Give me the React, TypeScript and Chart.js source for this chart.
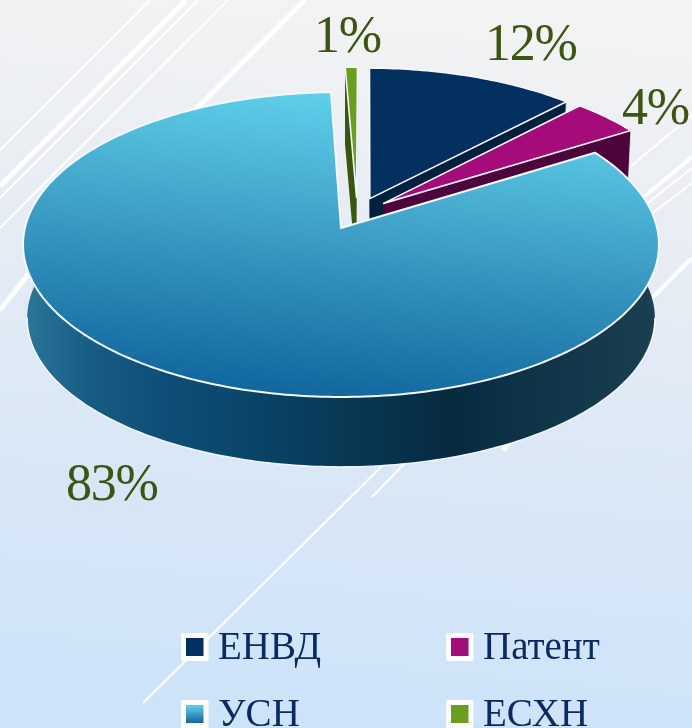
import React, { useEffect, useRef } from "react";
import { Chart, registerables } from "chart.js";

Chart.register(...registerables);

const categories = ["ЕНВД", "Патент", "УСН", "ЕСХН"];
const shares = [12, 4, 83.3, 0.7];

const topColors = ["#03305f", "#a50c7a", "#3f9fc8", "#6b9e1f"];
const wallColors = ["#02213f", "#4d053c", "#0a4266", "#3a5510"];
const paintOrder = [3, 0, 1, 2];
const usnIndex = 2;

const labelInk = "#3b5512";
const legendInk = "#0b2a63";
const labelSpots = [
  { x: 485, y: 60 },
  { x: 622, y: 124 },
  { x: 66, y: 500 },
  { x: 314, y: 52 },
];
const legendSpots = [
  { x: 181, y: 633 },
  { x: 446, y: 633 },
  { x: 181, y: 700 },
  { x: 446, y: 700 },
];

const bgLines: [number, number, number, number, number][] = [
  [150, 0, 0, 150, 2],
  [186, 0, 0, 186, 5],
  [198, 0, 0, 198, 2],
  [228, 0, 0, 228, 2],
  [305, 0, 190, 115, 5],
  [0, 310, 30, 272, 5],
  [692, 258, 650, 300, 4],
  [630, 167, 692, 115, 2],
  [640, 200, 692, 157, 4],
  [645, 205, 692, 168, 2],
  [650, 215, 692, 183, 2],
  [143, 703, 385, 463, 2],
  [372, 497, 405, 463, 2],
  [503, 450, 512, 440, 5],
];

// perspective plane: horizontal and vertical reach and y of origin for the top and bottom faces
const PERSP = 0.1082;
const CX = 341;
const TOP = { a: 316.1, b: 150.7, y0: 228 };
const BOTTOM = { a: 312, b: 147, y0: 302 };
const EXPLODE = 0.11;

type Face = { a: number; b: number; y0: number };

function project(u: number, v: number, f: Face) {
  const w = 1 - PERSP * v;
  return { x: CX + (f.a * u) / w, y: f.y0 + (f.b * v) / w };
}

function sliceGeom(start: number, end: number, usnMid: number) {
  const mid = (start + end) / 2;
  const ou = EXPLODE * (Math.cos(mid) - Math.cos(usnMid));
  const ov = EXPLODE * (Math.sin(mid) - Math.sin(usnMid));
  const pts: [number, number][] = [];
  const n = Math.max(2, Math.ceil(((end - start) * 180) / Math.PI));
  for (let i = 0; i <= n; i++) {
    const t = start + ((end - start) * i) / n;
    pts.push([ou + Math.cos(t), ov + Math.sin(t)]);
  }
  return { apex: [ou, ov] as [number, number], pts };
}

function polygon(ctx: CanvasRenderingContext2D, list: { x: number; y: number }[]) {
  ctx.beginPath();
  list.forEach((p, i) => (i ? ctx.lineTo(p.x, p.y) : ctx.moveTo(p.x, p.y)));
  ctx.closePath();
}

const topGradient = (ctx: CanvasRenderingContext2D, x0: number, y0: number, x1: number, y1: number) => {
  const g = ctx.createLinearGradient(x0, y0, x1, y1);
  g.addColorStop(0, "#60d1ea");
  g.addColorStop(0.5, "#3b9bc4");
  g.addColorStop(1, "#11679e");
  return g;
};

const backdrop = {
  id: "backdrop",
  beforeDraw(chart: any) {
    const { ctx, width, height } = chart;
    ctx.save();
    const g = ctx.createLinearGradient(width * 0.55, 0, width * 0.45, height);
    g.addColorStop(0, "#f3f3f3");
    g.addColorStop(0.3, "#e8edf3");
    g.addColorStop(0.65, "#d9e7f6");
    g.addColorStop(1, "#cde3f9");
    ctx.fillStyle = g;
    ctx.fillRect(0, 0, width, height);
    ctx.strokeStyle = "#ffffff";
    bgLines.forEach(([x0, y0, x1, y1, w]) => {
      ctx.lineWidth = w;
      ctx.beginPath();
      ctx.moveTo(x0, y0);
      ctx.lineTo(x1, y1);
      ctx.stroke();
    });
    ctx.restore();
  },
};

const pie3d = {
  id: "pie3d",
  beforeDatasetsDraw(chart: any) {
    const { ctx } = chart;
    const arcs = chart.getDatasetMeta(0).data;
    const usn = arcs[usnIndex];
    const usnMid = (usn.startAngle + usn.endAngle) / 2;
    ctx.save();
    ctx.lineJoin = "round";
    paintOrder.forEach((i) => {
      const arc = arcs[i];
      const { apex, pts } = sliceGeom(arc.startAngle, arc.endAngle, usnMid);
      const topRim = pts.map(([u, v]) => project(u, v, TOP));
      const lowRim = pts.map(([u, v]) => project(u, v, BOTTOM));
      const topApex = project(apex[0], apex[1], TOP);
      const lowApex = project(apex[0], apex[1], BOTTOM);

      let wall: any = wallColors[i];
      if (i === usnIndex) {
        const g = ctx.createLinearGradient(27, 0, 655, 0);
        g.addColorStop(0, "#2a7598");
        g.addColorStop(0.1, "#175c83");
        g.addColorStop(0.2, "#0f5078");
        g.addColorStop(0.38, "#0a4266");
        g.addColorStop(0.52, "#083752");
        g.addColorStop(0.68, "#072a40");
        g.addColorStop(0.8, "#0f3347");
        g.addColorStop(1, "#1a3f50");
        wall = g;
      }
      ctx.fillStyle = wall;
      polygon(ctx, [topApex, topRim[0], lowRim[0], lowApex]);
      ctx.fill();
      polygon(ctx, [topApex, topRim[topRim.length - 1], lowRim[lowRim.length - 1], lowApex]);
      ctx.fill();
      polygon(ctx, [...topRim, ...[...lowRim].reverse()]);
      ctx.fill();

      if (i === usnIndex) {
        ctx.strokeStyle = "rgba(255,255,255,0.9)";
        ctx.lineWidth = 1.4;
        ctx.beginPath();
        lowRim.forEach((p, k) => {
          const v = pts[k][1];
          if (v < 0.1) return;
          ctx.lineTo(p.x, p.y);
        });
        ctx.stroke();
      } else {
        // the visible edge of the outermost cut
        ctx.strokeStyle = "rgba(255,255,255,0.85)";
        ctx.lineWidth = 1;
        ctx.beginPath();
        ctx.moveTo(topRim[topRim.length - 1].x, topRim[topRim.length - 1].y);
        ctx.lineTo(lowRim[lowRim.length - 1].x, lowRim[lowRim.length - 1].y);
        ctx.stroke();
      }

      ctx.fillStyle = i === usnIndex ? topGradient(ctx, 356, 92, 326, 397) : topColors[i];
      ctx.lineWidth = i === usnIndex ? 2 : 1.6;
      ctx.strokeStyle = "#f4f8fc";
      polygon(ctx, [topApex, ...topRim]);
      ctx.fill();
      ctx.stroke();
    });
    ctx.restore();
    return false;
  },
  afterDraw(chart: any) {
    const { ctx } = chart;
    const labels: string[] = chart.data.labels;
    const values: number[] = chart.data.datasets[0].data;
    ctx.save();
    ctx.textAlign = "left";
    ctx.textBaseline = "alphabetic";
    ctx.fillStyle = labelInk;
    ctx.font = '52px "Liberation Serif"';
    (ctx as any).letterSpacing = "-1.2px";
    values.forEach((v, i) => ctx.fillText(`${Math.round(v)}%`, labelSpots[i].x, labelSpots[i].y));
    (ctx as any).letterSpacing = "0px";

    labels.forEach((name, i) => {
      const { x, y } = legendSpots[i];
      ctx.fillStyle = "#ffffff";
      ctx.beginPath();
      ctx.roundRect(x, y, 27.5, 28, 2);
      ctx.fill();
      ctx.fillStyle = i === usnIndex ? topGradient(ctx, x + 14, y + 5, x + 14, y + 23) : topColors[i];
      ctx.fillRect(x + 5, y + 5, 17.5, 18);
      ctx.fillStyle = legendInk;
      ctx.font = '39px "Liberation Serif"';
      ctx.fillText(name, x + 37, y + 26);
    });
    ctx.restore();
  },
};

export default function App() {
  const ref = useRef<HTMLCanvasElement>(null);
  useEffect(() => {
    document.body.style.margin = "0";
    document.documentElement.style.overflow = "hidden";
    const chart = new Chart(ref.current as HTMLCanvasElement, {
      type: "pie",
      data: {
        labels: categories,
        datasets: [{ data: shares, backgroundColor: topColors }],
      },
      options: {
        responsive: false,
        animation: false,
        rotation: 0.5,
        plugins: { legend: { display: false }, tooltip: { enabled: false } },
      },
      plugins: [backdrop, pie3d],
    } as any);
    return () => chart.destroy();
  }, []);
  return <canvas ref={ref} width={692} height={728} style={{ display: "block" }} />;
}
